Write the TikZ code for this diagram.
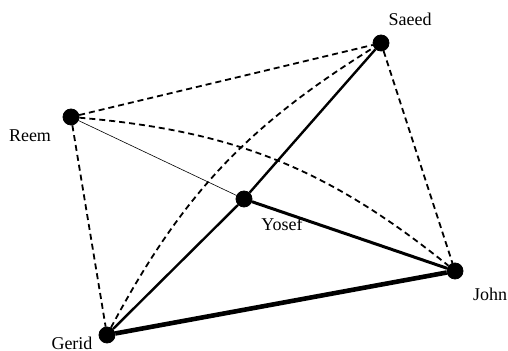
\documentclass[tikz,border=0pt]{standalone}
\usepackage{fontspec}
\setmainfont{Liberation Serif}
\begin{document}
\begin{tikzpicture}[
    x=0.5pt, y=-0.5pt,
    person/.style={draw, circle, fill=black, inner sep=0pt, minimum size=8pt},
    person_lbl/.style={font=\fontsize{9}{11}\selectfont, inner sep=0pt},
    dashed_tie/.style={line width=0.9pt, dash pattern=on 3pt off 2pt},
    weak_tie/.style={line width=0.3pt},
    mid_tie/.style={line width=1.2pt},
    strong_tie/.style={line width=1.5pt},
    strongest_tie/.style={line width=2.3pt}
]
\useasboundingbox (0,0) rectangle (508,351);

% People
\node[person] (saeed) at (381,43) {};
\node[person] (reem) at (71,117) {};
\node[person] (yosef) at (244,199) {};
\node[person] (john) at (455,271) {};
\node[person] (gerid) at (107,335) {};

% Names
\node[person_lbl] (saeed_lbl) at (410,19) {Saeed};
\node[person_lbl] (reem_lbl) at (30,136) {Reem};
\node[person_lbl] (yosef_lbl) at (282,224) {Yosef};
\node[person_lbl] (john_lbl) at (490,294) {John};
\node[person_lbl] (gerid_lbl) at (72,343) {Gerid};

% Dashed ties
\draw[dashed_tie] (reem) -- (saeed);
\draw[dashed_tie] (saeed) -- (john);
\draw[dashed_tie] (reem) -- (gerid);
\draw[dashed_tie] (reem) to[bend left=17] (john);
\draw[dashed_tie] (gerid) to[bend left=15] (saeed);

% Solid ties
\draw[weak_tie] (reem) -- (yosef);
\draw[mid_tie] (gerid) -- (yosef);
\draw[mid_tie] (yosef) -- (saeed);
\draw[strong_tie] (yosef) -- (john);
\draw[strongest_tie] (gerid) -- (john);
\end{tikzpicture}
\end{document}
